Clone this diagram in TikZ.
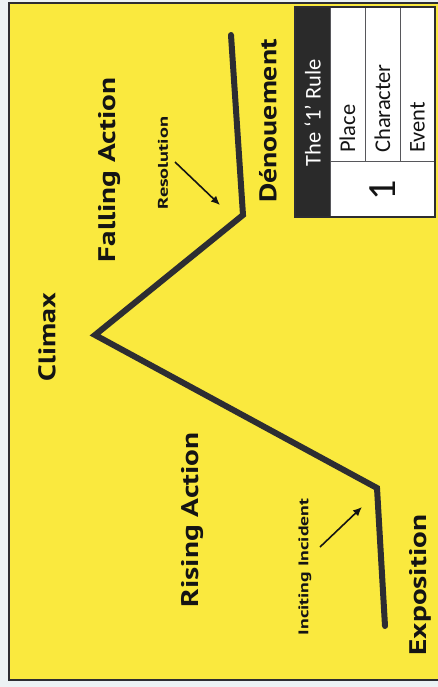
\documentclass[tikz,border=0pt]{standalone}
\usepackage{fontspec}
\setmainfont{Carlito}
\newfontfamily\handfont{PT Sans}
\usetikzlibrary{arrows.meta}

\definecolor{paper}{RGB}{250,233,62}
\definecolor{margin}{RGB}{236,242,244}
\definecolor{ink}{RGB}{20,20,20}
\definecolor{plotline}{RGB}{45,45,50}
\definecolor{headfill}{RGB}{42,42,42}

\tikzset{
  handlabel/.style={rotate=90, font=\handfont\bfseries\fontsize{24}{24}\selectfont, text=ink, inner sep=0pt},
  smallhand/.style={rotate=90, font=\handfont\bfseries\fontsize{14}{14}\selectfont, text=ink, inner sep=0pt},
  handarrow/.style={draw=ink, line width=1.6pt, -{Latex[length=9pt,width=8pt]}},
  storyline/.style={draw=plotline, line width=6pt, line join=miter, line cap=round},
  cellline/.style={draw=plotline!80, line width=1pt},
  celltext/.style={rotate=90, font=\fontsize{22.5}{22.5}\selectfont, text=ink, inner sep=0pt, anchor=west}
}

\begin{document}
\begin{tikzpicture}[x=1pt,y=-1pt]
\useasboundingbox (0,0) rectangle (438,687);
\fill[margin] (0,0) rectangle (438,687);

% the yellow sheet
\draw[fill=paper, draw=plotline, line width=1.8pt] (9,3) rectangle (446,680);

% plot line of the story
\coordinate (expo) at (385,626);
\coordinate (incite) at (377,488);
\coordinate (peak) at (95,335);
\coordinate (resol) at (243,215);
\coordinate (denou) at (231,35);
\draw[storyline] (expo) -- (incite) -- (peak) -- (resol) -- (denou);

% stage labels
\node[handlabel] (climax) at (47,337) {\scalebox{1.25}[1]{Climax}};
\node[handlabel] (falling) at (110,170) {\scalebox{1.3}[1]{Falling Action}};
\node[handlabel] (rising) at (193,520) {\scalebox{1.3}[1]{Rising Action}};
\node[handlabel] (denoue) at (268,121) {\scalebox{1.24}[1]{Dénouement}};
\node[handlabel] (exposition) at (420,585) {\scalebox{1.3}[1]{Exposition}};
\node[smallhand] (resolution) at (163,163) {\scalebox{1.45}[1]{Resolution}};
\node[smallhand] (inciting) at (305,567) {\scalebox{1.4}[1]{Inciting Incident}};

% pointers to the turning points
\coordinate (resfrom) at (175,162);
\coordinate (resto) at (220,205);
\coordinate (incfrom) at (320,547);
\coordinate (incto) at (362,507);
\draw[handarrow] (resfrom) -- (resto);
\draw[handarrow] (incfrom) -- (incto);

% the '1' rule table
\fill[white] (330,7) rectangle (435,217);
\fill[headfill] (295,7) rectangle (330,217);
\draw[cellline] (330,7) -- (330,217);
\draw[cellline] (365,7) -- (365,162);
\draw[cellline] (400,7) -- (400,162);
\draw[cellline] (330,162) -- (435,162);
\draw[draw=plotline, line width=1.4pt] (295,7) rectangle (435,217);

\node[rotate=90, font=\fontsize{22.5}{22.5}\selectfont, text=white, inner sep=0pt] (rulehead) at (312.5,113) {The ‘1’ Rule};
\node[celltext] (place) at (347.5,153) {Place};
\node[celltext] (character) at (382.5,153) {Character};
\node[celltext] (event) at (417.5,153) {Event};
\node[rotate=90, font=\fontsize{40}{40}\selectfont, text=ink, inner sep=0pt] (one) at (382.5,190) {1};
\end{tikzpicture}
\end{document}
